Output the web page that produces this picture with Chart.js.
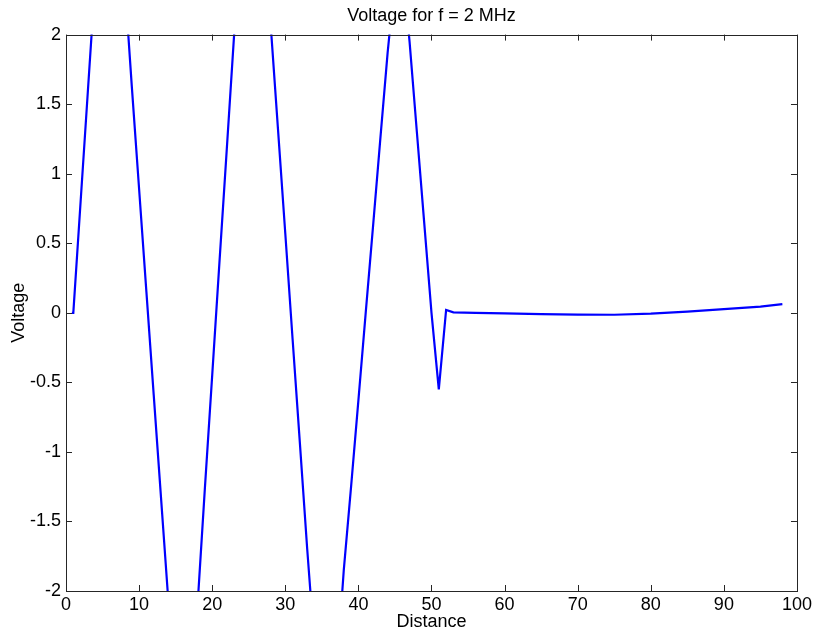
<!DOCTYPE html>
<html>
<head>
<meta charset="utf-8">
<script src="https://cdn.jsdelivr.net/npm/chart.js@4.4.1/dist/chart.umd.min.js"></script>
<style>
    html, body { margin: 0; padding: 0; background: #fff; }
    canvas { display: block; }
</style>
</head>
<body>
<canvas id="myChart" width="815" height="633"></canvas>
<script>
"use strict";
// distance samples and the voltage read at each one
const distance = [0.8, 1, 2, 3, 4, 5, 6, 7, 8, 9, 10,
    11, 12, 13, 14, 15, 16, 17, 18, 19, 20,
    21, 22, 23, 24, 25, 26, 27, 28, 29, 30,
    31, 32, 33, 34, 35, 36, 37, 38, 39, 40,
    41, 42, 43, 44, 45, 46, 47, 48, 49, 50,
    51, 52, 53, 56, 60, 65, 70, 75, 80, 85, 90, 95, 98];
const voltage = [0, 0, 0.8, 1.6, 2.4, 2.9, 3.0, 2.9, 2.4, 1.63, 0.89,
    0.15, -0.59, -1.33, -2.07, -2.6, -2.8, -2.6, -2.1, -1.26, -0.45,
    0.37, 1.18, 2.0, 2.6, 2.9, 2.9, 2.7, 2.07, 1.32, 0.57,
    -0.19, -0.94, -1.70, -2.4, -2.8, -2.8, -2.6, -1.85, -1.25, -0.63,
    0.0, 0.62, 1.25, 1.87, 2.4, 2.5, 1.95, 1.30, 0.65, 0.0,
    -0.55, 0.02, 0.003, 0.0, -0.004, -0.009, -0.013, -0.014, -0.006, 0.009, 0.026, 0.045, 0.062];
const xTickValues = [0, 10, 20, 30, 40, 50, 60, 70, 80, 90, 100];
const yTickValues = [-2, -1.5, -1, -0.5, 0, 0.5, 1, 1.5, 2];

const points = distance.map((d, i) => ({ x: d, y: voltage[i] }));
const fontFamily = "'Liberation Sans', Arial, sans-serif";

// MATLAB style box with inward ticks on all four sides
const boxTicks = {
    id: 'boxTicks',
    afterDraw(chart) {
        const ctx = chart.ctx;
        const a = chart.chartArea;
        const xs = chart.scales.x;
        const ys = chart.scales.y;
        const len = 6;
        ctx.save();
        ctx.strokeStyle = '#262626';
        ctx.lineWidth = 1;
        ctx.beginPath();
        for (const v of xTickValues) {
            const px = Math.round(xs.getPixelForValue(v)) + 0.5;
            ctx.moveTo(px, a.bottom);
            ctx.lineTo(px, a.bottom - len);
            ctx.moveTo(px, a.top);
            ctx.lineTo(px, a.top + len);
        }
        for (const v of yTickValues) {
            const py = Math.round(ys.getPixelForValue(v)) + 0.5;
            ctx.moveTo(a.left, py);
            ctx.lineTo(a.left + len, py);
            ctx.moveTo(a.right, py);
            ctx.lineTo(a.right - len, py);
        }
        ctx.stroke();
        ctx.strokeRect(Math.round(a.left) + 0.5, Math.round(a.top) + 0.5,
            Math.round(a.right - a.left), Math.round(a.bottom - a.top));
        ctx.restore();
    }
};

new Chart(document.getElementById('myChart'), {
    type: 'line',
    data: {
        datasets: [{
            data: points,
            borderColor: '#0000ff',
            borderWidth: 2.2,
            pointRadius: 0,
            tension: 0,
            fill: false,
            clip: 0
        }]
    },
    options: {
        responsive: false,
        animation: false,
        layout: { padding: { left: 0, right: 16, top: 0, bottom: 0 } },
        plugins: {
            legend: { display: false },
            tooltip: { enabled: false },
            title: {
                display: true,
                fullSize: false,
                text: 'Voltage for f = 2 MHz',
                color: '#000',
                font: { family: fontFamily, size: 18, weight: 'normal', lineHeight: 1.2 },
                padding: { top: 5, bottom: 8 }
            }
        },
        scales: {
            x: {
                type: 'linear',
                min: 0,
                max: 100,
                afterBuildTicks: s => { s.ticks = xTickValues.map(v => ({ value: v })); },
                afterFit: s => { s.height = 42; },
                grid: { display: false, drawTicks: false },
                border: { display: false },
                ticks: {
                    color: '#000',
                    padding: 3,
                    maxRotation: 0,
                    font: { family: fontFamily, size: 18 },
                    callback: v => String(v)
                },
                title: {
                    display: true,
                    text: 'Distance',
                    color: '#000',
                    font: { family: fontFamily, size: 18, lineHeight: 1.2 },
                    padding: { top: 0, bottom: 0 }
                }
            },
            y: {
                type: 'linear',
                min: -2,
                max: 2,
                afterBuildTicks: s => { s.ticks = yTickValues.map(v => ({ value: v })); },
                afterFit: s => { s.width = 66; },
                grid: { display: false, drawTicks: false },
                border: { display: false },
                ticks: {
                    color: '#000',
                    padding: 5,
                    font: { family: fontFamily, size: 18 },
                    callback: v => String(v)
                },
                title: {
                    display: true,
                    text: 'Voltage',
                    color: '#000',
                    font: { family: fontFamily, size: 18, lineHeight: 1.2 },
                    padding: { top: 8, bottom: 0 }
                }
            }
        }
    },
    plugins: [boxTicks]
});
</script>
</body>
</html>
